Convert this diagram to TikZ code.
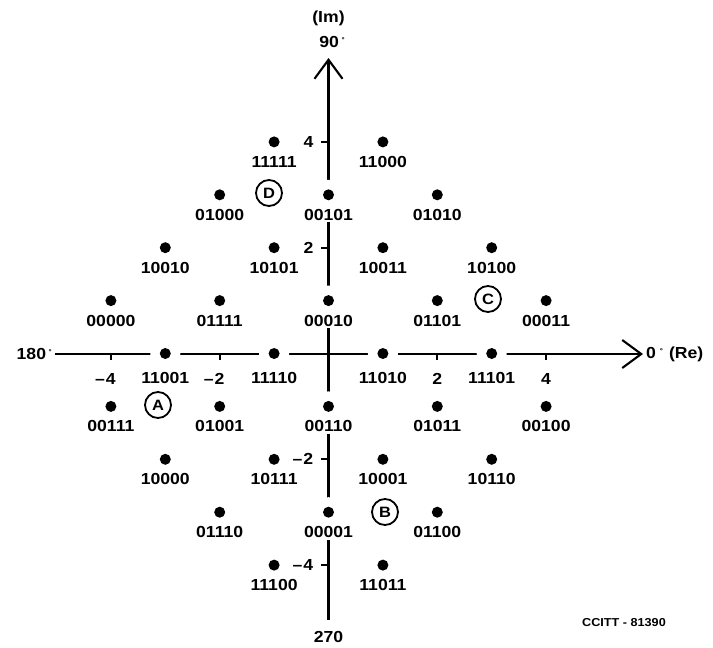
\documentclass[tikz,border=0pt]{standalone}
\usepackage{fontspec}
\setmainfont{Liberation Sans}
\newfontfamily\codefont{Liberation Sans Bold}[FakeStretch=1.1]
\usetikzlibrary{arrows.meta}

\newcommand\degmark{\raisebox{5pt}{\fontsize{7}{7}\selectfont°}}
\newcommand\negval[1]{–\kern1pt#1}

\tikzset{
  axis/.style={line width=2.3pt},
  axisarrow/.style={-{Straight Barb[length=19pt,width=28pt,line width=2.1pt]}},
  tick/.style={line width=1.8pt},
  sig/.style={circle,fill=black,inner sep=0pt,minimum size=11pt},
  vhalo/.style={circle,fill=white,inner sep=0pt,minimum size=30pt},
  hhalo/.style={circle,fill=white,inner sep=0pt,minimum size=30pt},
  code/.style={font=\codefont\fontsize{16}{18}\selectfont,fill=white,inner sep=2pt},
  txt/.style={font=\codefont\fontsize{16}{18}\selectfont,inner sep=1pt},
  small/.style={font=\codefont\fontsize{11.5}{13}\selectfont,inner sep=1pt},
  ring/.style={circle,draw,line width=1.8pt,minimum size=26pt,inner sep=0pt,
               font=\codefont\fontsize{15}{17}\selectfont},
}

\begin{document}
\begin{tikzpicture}[x=1pt,y=-1pt]
\useasboundingbox (0,0) rectangle (713,648);

% axes
\coordinate (hl) at (55,354);
\coordinate (hr) at (643,354);
\coordinate (vb) at (328.5,620);
\coordinate (vt) at (328.5,58);
\draw[axis,axisarrow] (hl) -- (hr);
\draw[axis,axisarrow] (vb) -- (vt);

% ticks on the real axis
\foreach \i/\t in {-4/m4,-2/m2,2/p2,4/p4}{
  \coordinate (xt\t) at ({328.5+54.4*\i},354);
  \draw[tick] (xt\t) -- ++(0,6);
}
% ticks on the imaginary axis
\foreach \j/\t in {4/p4,2/p2,-2/m2,-4/m4}{
  \coordinate (yt\t) at (328.5,{353.5-52.9*\j});
  \draw[tick] (yt\t) -- ++(-8,0);
}

% tick values
\node[txt,anchor=east] (xlm4) at ([xshift=6]xtm4 |- 0,379) {\negval{4}};
\node[txt,anchor=east] (xlm2) at ([xshift=6]xtm2 |- 0,379) {\negval{2}};
\node[txt] (xlp2) at (xtp2 |- 0,379) {2};
\node[txt] (xlp4) at (xtp4 |- 0,379) {4};
\node[txt,anchor=east] (ylp4) at ([xshift=-14]ytp4) {4};
\node[txt,anchor=east] (ylp2) at ([xshift=-14]ytp2) {2};
\node[txt,anchor=east] (ylm2) at ([xshift=-14]ytm2) {\negval{2}};
\node[txt,anchor=east] (ylm4) at ([xshift=-14]ytm4) {\negval{4}};

% axis captions
\node[txt,anchor=east] (c180) at (53,354) {180\,\degmark};
\node[txt,anchor=west] (c0) at (645,354) {0\hspace{4pt}\degmark\hspace{6pt}(Re)};
\node[txt] (cim) at (328.5,18) {(Im)};
\node[txt] (c90) at (332,42) {90\,\degmark};
\node[txt] (c270) at (328.5,637) {270};
\node[small,anchor=east] (ref) at (667,623) {CCITT - 81390};

% signal points with their five-bit codes
\foreach \i/\j/\c in {
  -1/4/11111, 1/4/11000,
  -2/3/01000, 0/3/00101, 2/3/01010,
  -3/2/10010, -1/2/10101, 1/2/10011, 3/2/10100,
  -4/1/00000, -2/1/01111, 0/1/00010, 2/1/01101, 4/1/00011,
  -3/0/11001, -1/0/11110, 1/0/11010, 3/0/11101,
  -4/-1/00111, -2/-1/01001, 0/-1/00110, 2/-1/01011, 4/-1/00100,
  -3/-2/10000, -1/-2/10111, 1/-2/10001, 3/-2/10110,
  -2/-3/01110, 0/-3/00001, 2/-3/01100,
  -1/-4/11100, 1/-4/11011}{
  \pgfmathsetmacro{\px}{328.5+54.4*\i}
  \pgfmathsetmacro{\py}{353.5-52.9*\j}
  \pgfmathsetmacro{\dy}{\j==0 ? 24 : 20}
  \ifnum\i=0 \node[vhalo] at (\px,\py) {};\fi
  \ifnum\j=0 \node[hhalo] at (\px,\py) {};\fi
  \node[code] (l\c) at (\px,{\py+\dy}) {\c};
  \node[sig] (s\c) at (\px,\py) {};
}

% circled sector letters
\node[ring] (qa) at (158,405) {A};
\node[ring] (qb) at (385,512) {B};
\node[ring] (qc) at (488,299) {C};
\node[ring] (qd) at (269,193) {D};
\end{tikzpicture}
\end{document}
